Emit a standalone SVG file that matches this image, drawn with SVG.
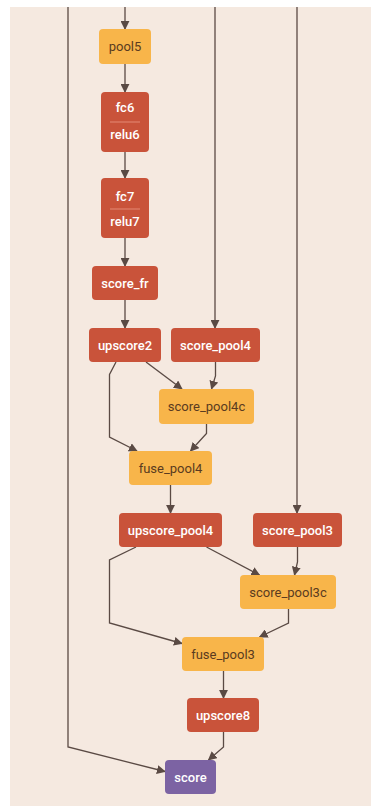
<svg xmlns="http://www.w3.org/2000/svg" width="371" height="806" viewBox="0 0 371 806">
<style>
.bg{fill:#f5e9e0}
.o rect{fill:#f8b54a}
.r rect{fill:#c9533a}
.p rect{fill:#7c63a3}
text{font-family:Roboto,"Liberation Sans",sans-serif;font-size:13px;text-anchor:middle}
.o text{fill:#5a3b20}
.r text,.p text{fill:#ffffff;font-weight:500}
.sep{stroke:#e48a74;stroke-width:1}
.e path{fill:none;stroke:#5a4a44;stroke-width:1.3}
</style>
<defs>
<marker id="ah" viewBox="0 0 10 10" refX="9" refY="5" markerWidth="9" markerHeight="9" markerUnits="userSpaceOnUse" orient="auto">
<path d="M0,0 L10,5 L0,10 z" fill="#5a4a44"/>
</marker>
</defs>
<rect class="bg" x="10" y="7" width="361" height="799"/>
<g id="connectors" class="e">
<path d="M125,7 V29" marker-end="url(#ah)"/>
<path d="M215,7 V328" marker-end="url(#ah)"/>
<path d="M297,7 V513" marker-end="url(#ah)"/>
<path d="M68,7 V747 L165,771.5" marker-end="url(#ah)"/>
<path d="M125,64 V92" marker-end="url(#ah)"/>
<path d="M125,152 V178" marker-end="url(#ah)"/>
<path d="M125,238 V266" marker-end="url(#ah)"/>
<path d="M125,300 V328" marker-end="url(#ah)"/>
<path d="M146,362 L182,389" marker-end="url(#ah)"/>
<path d="M116,362 L109.5,374.5 V437 L137,451" marker-end="url(#ah)"/>
<path d="M215.5,362 V376 L211.5,389" marker-end="url(#ah)"/>
<path d="M206.5,424 V433.5 L190.5,451" marker-end="url(#ah)"/>
<path d="M170.5,485 V513" marker-end="url(#ah)"/>
<path d="M206.5,547 L259.5,575" marker-end="url(#ah)"/>
<path d="M136,547 L109.5,560 V623 L182,643.5" marker-end="url(#ah)"/>
<path d="M297.5,547 V562 L294.5,575" marker-end="url(#ah)"/>
<path d="M288.5,609 V623 L259.5,637" marker-end="url(#ah)"/>
<path d="M223.5,671 V698" marker-end="url(#ah)"/>
<path d="M223.5,732 V747 L208.5,760" marker-end="url(#ah)"/>
</g>
<g id="pool5" class="o"><rect x="99" y="29" width="52" height="35" rx="4"/><text x="125" y="51">pool5</text></g>
<g id="fc6" class="r"><rect x="101" y="92" width="48" height="60" rx="4"/><text x="125" y="112">fc6</text><line class="sep" x1="110" y1="122" x2="140" y2="122"/><text x="125" y="139">relu6</text></g>
<g id="fc7" class="r"><rect x="101" y="178" width="48" height="60" rx="4"/><text x="125" y="201">fc7</text><line class="sep" x1="110" y1="209" x2="140" y2="209"/><text x="125" y="226">relu7</text></g>
<g id="score_fr" class="r"><rect x="92" y="266" width="66" height="34" rx="4"/><text x="125" y="287.5">score_fr</text></g>
<g id="upscore2" class="r"><rect x="89" y="328" width="72" height="34" rx="4"/><text x="125" y="349.5">upscore2</text></g>
<g id="score_pool4" class="r"><rect x="171" y="328" width="89" height="34" rx="4"/><text x="215.5" y="349.5">score_pool4</text></g>
<g id="score_pool4c" class="o"><rect x="159" y="389" width="95" height="35" rx="4"/><text x="206.5" y="411">score_pool4c</text></g>
<g id="fuse_pool4" class="o"><rect x="129" y="451" width="83" height="34" rx="4"/><text x="170.5" y="472.5">fuse_pool4</text></g>
<g id="upscore_pool4" class="r"><rect x="119" y="513" width="103" height="34" rx="4"/><text x="170.5" y="534.5">upscore_pool4</text></g>
<g id="score_pool3" class="r"><rect x="253" y="513" width="89" height="34" rx="4"/><text x="297.5" y="534.5">score_pool3</text></g>
<g id="score_pool3c" class="o"><rect x="240" y="575" width="96" height="34" rx="4"/><text x="288" y="596.5">score_pool3c</text></g>
<g id="fuse_pool3" class="o"><rect x="182" y="637" width="82" height="34" rx="4"/><text x="223" y="658.5">fuse_pool3</text></g>
<g id="upscore8" class="r"><rect x="187" y="698" width="72" height="34" rx="4"/><text x="223" y="719.5">upscore8</text></g>
<g id="score" class="p"><rect x="165" y="760" width="51" height="34" rx="4"/><text x="190.5" y="781.5">score</text></g>
</svg>
